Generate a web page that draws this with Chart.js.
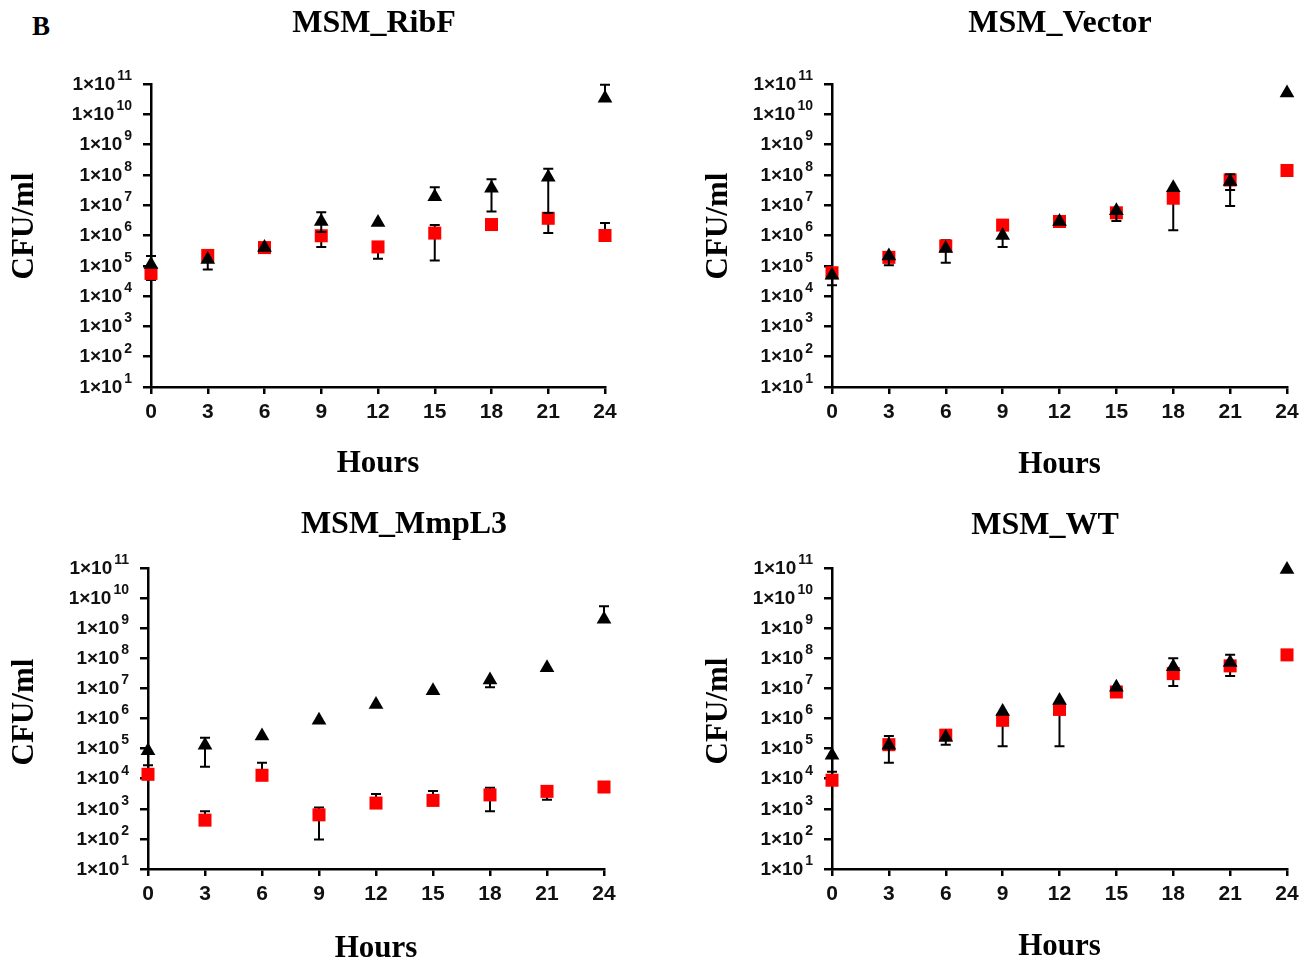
<!DOCTYPE html>
<html>
<head>
<meta charset="utf-8">
<script src="https://cdn.jsdelivr.net/npm/chart.js@4.4.1/dist/chart.umd.min.js"></script>
<style>
html,body{margin:0;padding:0;background:#fff;}
#wrap{position:relative;width:1313px;height:962px;overflow:hidden;background:#fff;}
#wrap canvas{position:absolute;}
#tag{position:absolute;left:32px;top:13px;font:bold 27px "Liberation Serif",serif;line-height:27px;color:#000;}
</style>
</head>
<body>
<div id="wrap">
<div id="tag">B</div>
<canvas id="c1"></canvas>
<canvas id="c2"></canvas>
<canvas id="c3"></canvas>
<canvas id="c4"></canvas>
</div>
<script>
// time points and y ticks
const hours=[0,3,6,9,12,15,18,21,24];
const powers=[1e1,1e2,1e3,1e4,1e5,1e6,1e7,1e8,1e9,1e10,1e11];

// MSM_RibF
const ribfTri=[1.1e5,1.6e5,4e5,2.9e6,2.7e6,1.9e7,3.6e7,8.3e7,3.4e10];
const ribfTriLo=[null,7.6e4,null,1.3e6,null,null,6.2e6,5.5e6,null];
const ribfTriHi=[2.1e5,null,null,5.8e6,null,3.9e7,7.2e7,1.6e8,9.5e10];
const ribfSq=[5.6e4,2.2e5,4e5,9.8e5,4.2e5,1.2e6,2.3e6,3.7e6,1e6];
const ribfSqLo=[3.4e4,null,null,4.2e5,1.7e5,1.5e5,null,1.2e6,null];
const ribfSqHi=[null,null,null,null,null,2.2e6,null,null,2.6e6];

// MSM_Vector
const vecTri=[4.9e4,2.1e5,3.7e5,1e6,2.9e6,6.6e6,3.8e7,6e7,5e10];
const vecTriLo=[2.3e4,1.05e5,1.26e5,4.2e5,null,3e6,null,3.2e7,null];
const vecTriHi=[null,null,null,null,null,null,null,1.05e8,null];
const vecSq=[5.9e4,1.9e5,4.5e5,2.2e6,2.9e6,5.6e6,1.7e7,6.8e7,1.4e8];
const vecSqLo=[null,null,null,null,null,null,1.5e6,9.4e6,null];
const vecSqHi=[null,null,7e5,null,null,null,null,null,null];

// MSM_MmpL3
const mmpTri=[8.5e4,1.3e5,2.6e5,8.7e5,2.9e6,8.3e6,1.9e7,4.9e7,2e9];
const mmpTriLo=[2.8e4,2.5e4,null,null,null,6.5e6,1.1e7,null,null];
const mmpTriHi=[null,2.3e5,null,null,null,null,null,null,5.4e9];
const mmpSq=[1.4e4,4.2e2,1.3e4,6.3e2,1.55e3,1.9e3,2.9e3,3.8e3,5.3e3];
const mmpSqLo=[null,null,null,96,null,null,8.3e2,2e3,null];
const mmpSqHi=[null,8.3e2,3.4e4,1.1e3,3.1e3,3.9e3,5e3,null,null];

// MSM_WT
const wtTri=[6e4,1.3e5,2.4e5,1.7e6,4e6,1.1e7,5.2e7,7.2e7,9e10];
const wtTriLo=[null,3.4e4,1.35e5,null,null,null,null,null,null];
const wtTriHi=[null,2.6e5,null,null,null,null,1e8,1.3e8,null];
const wtSq=[8.9e3,1.35e5,2.8e5,8.7e5,2e6,7.6e6,3.1e7,5.6e7,1.3e8];
const wtSqLo=[null,null,null,1.2e5,1.2e5,null,1.2e7,2.6e7,null];
const wtSqHi=[1.7e4,null,null,null,null,null,null,null,null];

const SERIF='"Liberation Serif","Times New Roman",serif';
const SANS='"Liberation Sans",Arial,sans-serif';

/* error bars, drawn just before each dataset's markers */
const errorBars={
id:'errorBars',
beforeDatasetDraw(chart,args){
const ds=chart.data.datasets[args.index];
if(!ds.errLo) return;
const y=chart.scales.y, ctx=chart.ctx;
ctx.save();
ctx.strokeStyle='#000';
ctx.lineWidth=2;
args.meta.data.forEach((pt,i)=>{
[ds.errLo[i],ds.errHi[i]].forEach(v=>{
if(v==null) return;
const py=y.getPixelForValue(v);
ctx.beginPath();
ctx.moveTo(pt.x,pt.y);
ctx.lineTo(pt.x,py);
ctx.moveTo(pt.x-5,py);
ctx.lineTo(pt.x+5,py);
ctx.stroke();
});
});
ctx.restore();
}
};

/* 1x10^n labels on the log axis */
const powerLabels={
id:'powerLabels',
afterDraw(chart){
const y=chart.scales.y, ctx=chart.ctx;
ctx.save();
ctx.fillStyle='#111';
ctx.textBaseline='middle';
ctx.textAlign='right';
y.ticks.forEach(t=>{
const py=y.getPixelForValue(t.value);
const exp=String(Math.round(Math.log10(t.value)));
const xr=y.right-19;
ctx.font='bold 14px '+SANS;
ctx.fillText(exp,xr,py-8);
const w=ctx.measureText(exp).width;
ctx.font='bold 19px '+SANS;
ctx.fillText('1\u00d710',xr-w-2,py+0.5);
});
ctx.restore();
}
};

/* panel heading and rotated y title placed at given points */
const panelText={
id:'panelText',
afterDraw(chart,args,opts){
const ctx=chart.ctx;
ctx.save();
ctx.fillStyle='#000';
ctx.textAlign='center';
ctx.textBaseline='middle';
ctx.font='bold 32px '+SERIF;
ctx.fillText(opts.title,opts.x,opts.y);
ctx.translate(opts.yx,opts.yy);
ctx.rotate(-Math.PI/2);
ctx.font='bold 31px '+SERIF;
ctx.fillText(opts.ytitle,0,0);
ctx.restore();
}
};

function points(vals){
return hours.map((h,i)=>({x:h,y:vals[i]}));
}

function makePanel(id,box,title,tri,triLo,triHi,sq,sqLo,sqHi){

const cv=document.getElementById(id);
cv.width=box.width; cv.height=box.height;
cv.style.left=box.left+'px'; cv.style.top=box.top+'px';

const xH=box.top+box.height-box.areaB;
const xPadBottom=box.top+box.height-box.hoursY-18.6;
const yW=box.areaL-box.left;

new Chart(cv,{
type:'scatter',
data:{datasets:[
{data:points(tri),errLo:triLo,errHi:triHi,pointStyle:'triangle',pointRadius:8.5,
 backgroundColor:'#000',borderColor:'#000',borderWidth:0,clip:false},
{data:points(sq),errLo:sqLo,errHi:sqHi,pointStyle:'rect',pointRadius:9.2,
 backgroundColor:'#ff0000',borderColor:'#ff0000',borderWidth:0,clip:false}
]},
options:{
responsive:false,animation:false,devicePixelRatio:1,
layout:{padding:{left:0,top:box.areaT-box.top,bottom:0,right:box.left+box.width-box.areaR}},
plugins:{
legend:{display:false},
tooltip:{enabled:false},
title:{display:false},
panelText:{title:title,x:box.titleX-box.left,y:box.titleY-box.top,
 ytitle:'CFU/ml',yx:box.cfuX-box.left,yy:box.cfuY-box.top}
},
scales:{
x:{type:'linear',min:0,max:24,
 ticks:{stepSize:3,color:'#111',font:{family:SANS,size:21,weight:'bold'},padding:6,maxRotation:0,autoSkip:false},
 grid:{drawOnChartArea:false,drawTicks:true,tickLength:7,color:'#000',lineWidth:2.5},
 border:{display:true,color:'#000',width:2.5},
 title:{display:true,text:'Hours',color:'#000',
  font:{family:SERIF,size:31,weight:'bold',lineHeight:1.2},padding:{top:0,bottom:xPadBottom}},
 afterFit:s=>{s.height=xH;}},
y:{type:'logarithmic',min:10,max:1e11,
 afterBuildTicks:s=>{s.ticks=powers.map(v=>({value:v}));},
 ticks:{display:false},
 grid:{drawOnChartArea:false,drawTicks:true,tickLength:8,color:'#000',lineWidth:2.5},
 border:{display:true,color:'#000',width:2.5},
 title:{display:false},
 afterFit:s=>{s.width=yW;}}
}
},
plugins:[errorBars,powerLabels,panelText]
});

}

makePanel('c1',{left:0,top:0,width:750,height:490,areaL:151,areaR:605,areaT:84,areaB:387,titleX:374,titleY:24,hoursY:463.5,cfuX:25,cfuY:226},
'MSM_RibF',ribfTri,ribfTriLo,ribfTriHi,ribfSq,ribfSqLo,ribfSqHi);

makePanel('c2',{left:680,top:0,width:633,height:490,areaL:832,areaR:1287,areaT:84,areaB:387,titleX:1060,titleY:24,hoursY:465,cfuX:719,cfuY:226},
'MSM_Vector',vecTri,vecTriLo,vecTriHi,vecSq,vecSqLo,vecSqHi);

makePanel('c3',{left:0,top:484,width:750,height:490,areaL:148,areaR:604,areaT:568,areaB:869,titleX:404,titleY:525,hoursY:949,cfuX:25,cfuY:712},
'MSM_MmpL3',mmpTri,mmpTriLo,mmpTriHi,mmpSq,mmpSqLo,mmpSqHi);

makePanel('c4',{left:680,top:484,width:633,height:490,areaL:832,areaR:1287,areaT:568,areaB:869,titleX:1045,titleY:526,hoursY:947,cfuX:719,cfuY:711},
'MSM_WT',wtTri,wtTriLo,wtTriHi,wtSq,wtSqLo,wtSqHi);
</script>
</body>
</html>
